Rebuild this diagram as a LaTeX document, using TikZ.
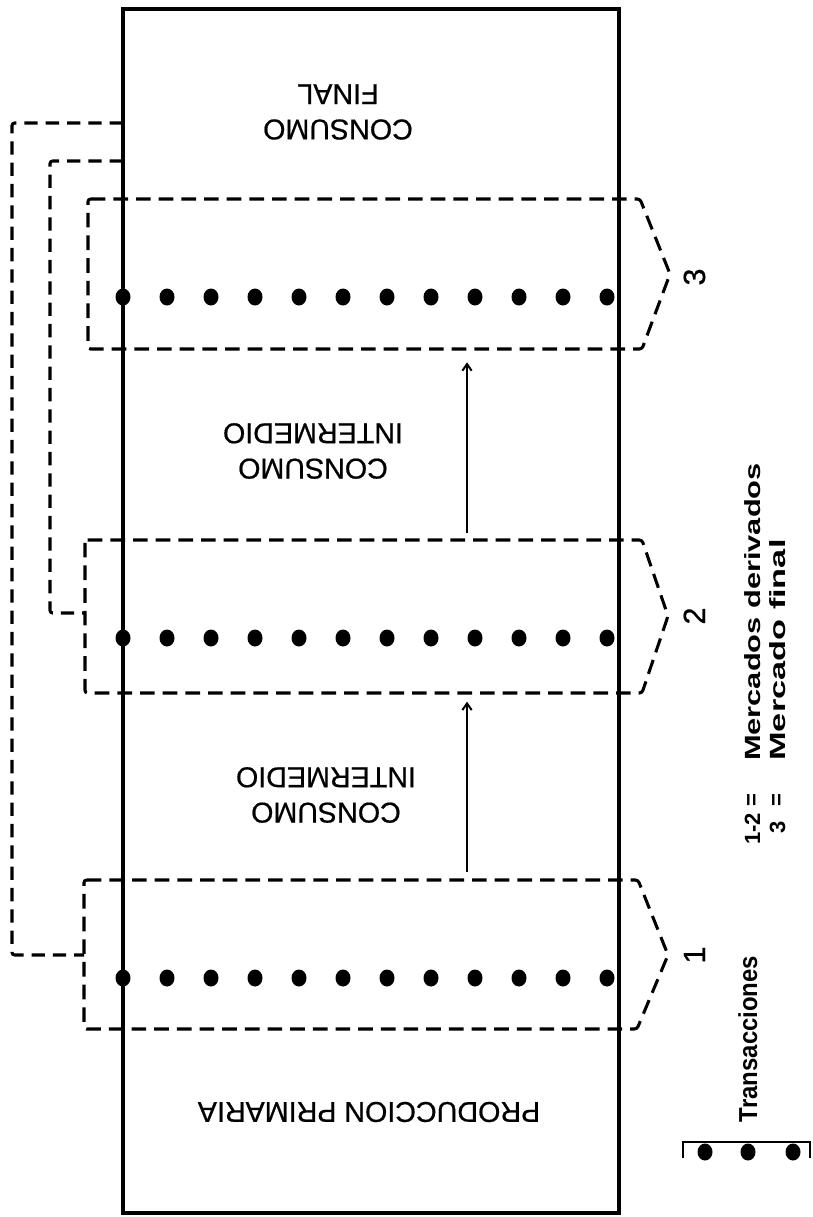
\documentclass[tikz,border=0pt]{standalone}
\usepackage{fontspec}
\setmainfont{Liberation Sans}
\newfontfamily\boxfont{Liberation Sans}[FakeBold=0.6]
\usetikzlibrary{arrows.meta,shapes.geometric}
\begin{document}
\begin{tikzpicture}[x=0.75pt,y=-0.75pt,
  frame/.style={line width=2.3pt},
  mkt/.style={line width=2.3pt, dash pattern=on 11pt off 6pt, rounded corners=2pt},
  link/.style={line width=2.3pt, dash pattern=on 10pt off 6pt, rounded corners=2pt},
  dotn/.style={ellipse, fill=black, draw=none, minimum width=11.25pt, minimum height=12.75pt, inner sep=0pt},
  arr/.style={line width=1.5pt, -{Straight Barb[length=5pt,width=7pt,line width=1.5pt]}},
  boxlab/.style={rotate=180, align=center, inner sep=0pt, font=\boxfont\fontsize{21.5}{26.5}\selectfont},
  num/.style={rotate=90, anchor=base, inner sep=0pt, font=\boxfont\fontsize{23}{26}\selectfont},
  leg/.style={rotate=90, anchor=base, inner sep=0pt, font=\bfseries\fontsize{16.5}{20}\selectfont}
]
\useasboundingbox (0,0) rectangle (813,1217);

% main column
\draw[frame] (123,9) rectangle (619,1213);

% market boxes
\draw[mkt] (88,199) -- (640,199) -- (670,274) -- (642,349) -- (88,349) -- cycle;
\draw[mkt] (85,540) -- (642,540) -- (668,616) -- (642,693) -- (85,693) -- cycle;
\draw[mkt] (84,880) -- (638,880) -- (668,955) -- (637,1029) -- (84,1029) -- cycle;

% dots
\foreach \i in {0,...,11} {
  \node[dotn] (r3-\i) at ({123+44*\i},297) {};
  \node[dotn] (r2-\i) at ({123+44*\i},638) {};
  \node[dotn] (r1-\i) at ({123+44*\i},978) {};
}

% box labels
\node[num] (n3) at (705,277) {3};
\node[num] (n2) at (705,616) {2};
\node[num] (n1) at (705,955) {1};

% region texts
\node[boxlab] (cf) at (338,112) {CONSUMO\\FINAL};
\node[boxlab] (ci2) at (313,451) {CONSUMO\\INTERMEDIO};
\node[boxlab] (ci1) at (326,795) {CONSUMO\\INTERMEDIO};
\node[boxlab] (pp) at (369,1112) {PRODUCCION PRIMARIA};

% arrows between markets
\coordinate (b1n) at (467,880);
\coordinate (b2s) at (467,693);
\coordinate (b2n) at (467,540);
\coordinate (b3s) at (467,349);
\draw[arr, shorten <=6pt, shorten >=6.5pt] (b1n) -- (b2s);
\draw[arr, shorten <=5pt, shorten >=10pt] (b2n) -- (b3s);

% dashed links from final consumption
\coordinate (f1) at (123,123);
\coordinate (c1) at (12,123);
\coordinate (c2) at (12,955);
\coordinate (b1w) at (84,955);
\coordinate (f2) at (123,161);
\coordinate (c3) at (50,161);
\coordinate (c4) at (50,613);
\coordinate (b2w) at (85,613);
\draw[link] (f1) -- (c1) -- (c2) -- (b1w);
\draw[link] (f2) -- (c3) -- (c4) -- (b2w);

% legend
\node[leg] (m1) at (760,612) {\scalebox{1.4}[1]{Mercados derivados}};
\node[leg] (m2) at (785,650) {\scalebox{1.56}[1]{Mercado final}};
\node[leg] (k1) at (760,829) {1-2};
\node[leg] (k2) at (785,827) {3};
\node[leg, anchor=center] (e1) at (753,800) {=};
\node[leg, anchor=center] (e2) at (778,800) {=};
\node[leg, font=\bfseries\fontsize{19.5}{22}\selectfont] (tr) at (757,1039) {\scalebox{0.92}[1]{Transacciones}};

\coordinate (bl) at (683,1158);
\coordinate (blt) at (683,1142);
\coordinate (brt) at (810,1142);
\coordinate (br) at (810,1158);
\draw[frame, line width=2.2pt] (bl) -- (blt) -- (brt) -- (br);
\node[dotn] (l1) at (705,1152) {};
\node[dotn] (l2) at (748,1152) {};
\node[dotn] (l3) at (793,1152) {};
\end{tikzpicture}
\end{document}
